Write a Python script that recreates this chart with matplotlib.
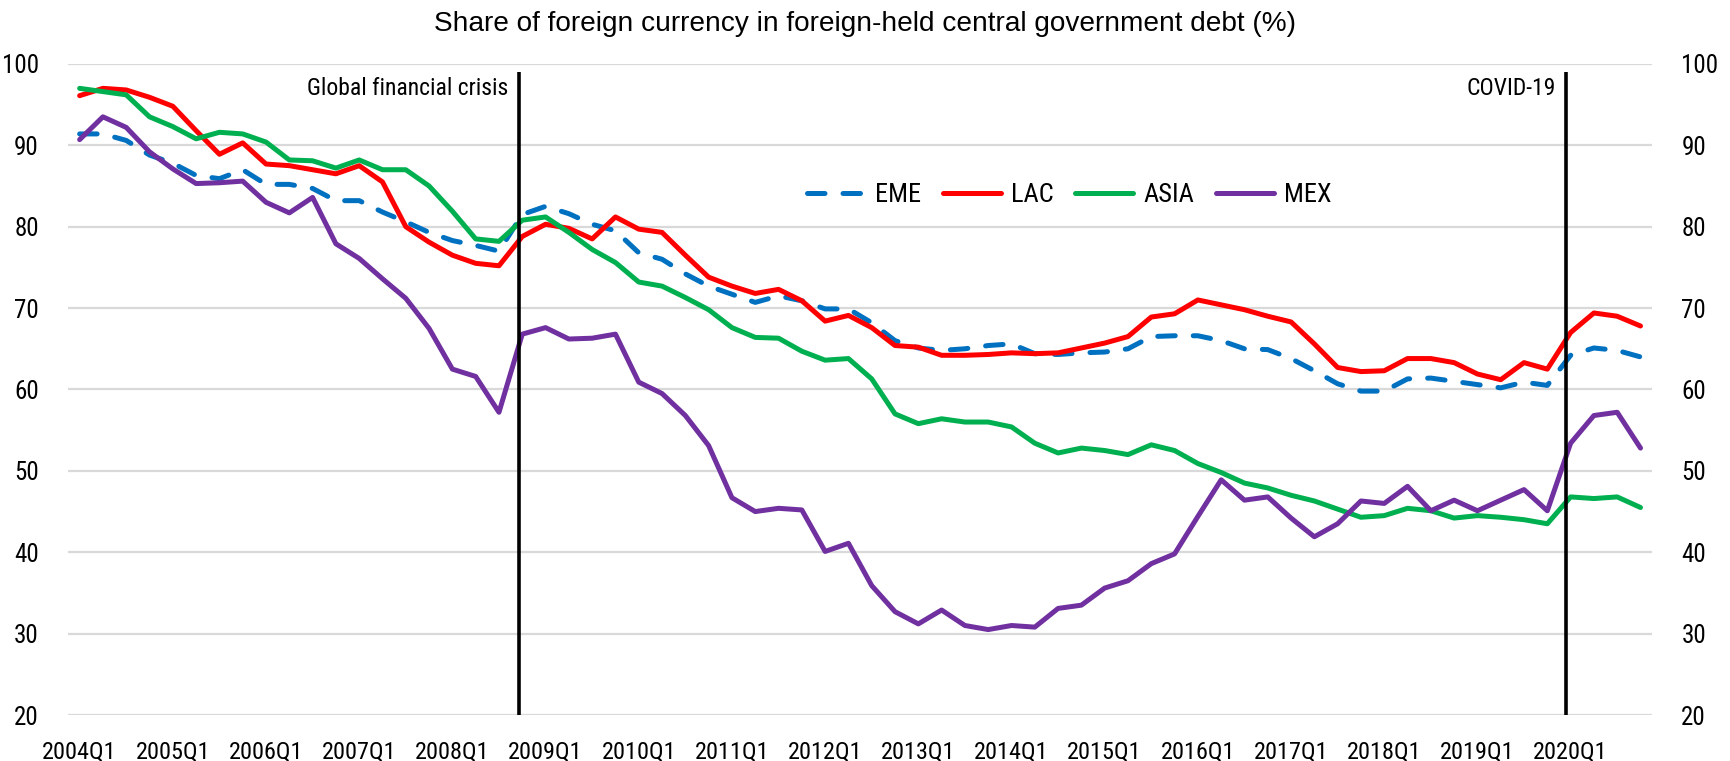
import matplotlib
matplotlib.use("Agg")
import matplotlib.pyplot as plt

# quarterly, 2004Q1 .. 2020Q4
years = list(range(2004, 2021))
quarters = [f"{y}Q{q}" for y in years for q in range(1, 5)]

eme = [91.4, 91.4, 90.6, 88.8, 87.8, 86.3, 85.9, 87.0, 85.2, 85.2,
       84.7, 83.2, 83.2, 81.8, 80.6, 79.3, 78.3, 77.7, 77.0, 81.5,
       82.5, 81.6, 80.3, 79.5, 76.8, 76.0, 74.2, 72.7, 71.7, 70.7,
       71.5, 70.9, 69.9, 69.9, 68.2, 66.0, 65.1, 64.8, 65.0, 65.4,
       65.6, 64.4, 64.3, 64.5, 64.6, 65.0, 66.5, 66.6, 66.6, 66.0,
       65.0, 64.9, 63.8, 62.3, 60.7, 59.8, 59.8, 61.3, 61.4, 61.0,
       60.6, 60.2, 60.9, 60.5, 64.2, 65.1, 64.8, 64.0]
lac = [96.1, 97.0, 96.8, 95.9, 94.8, 91.8, 88.9, 90.3, 87.7, 87.5,
       87.0, 86.5, 87.5, 85.5, 80.0, 78.1, 76.5, 75.5, 75.2, 78.8,
       80.3, 79.8, 78.5, 81.2, 79.7, 79.3, 76.5, 73.8, 72.7, 71.8,
       72.3, 70.9, 68.4, 69.1, 67.6, 65.4, 65.2, 64.2, 64.2, 64.3,
       64.5, 64.4, 64.5, 65.1, 65.7, 66.5, 68.9, 69.3, 71.0, 70.4,
       69.8, 69.0, 68.3, 65.6, 62.7, 62.2, 62.3, 63.8, 63.8, 63.3,
       61.9, 61.2, 63.3, 62.5, 67.0, 69.4, 69.0, 67.8]
asia = [97.0, 96.6, 96.2, 93.5, 92.3, 90.8, 91.6, 91.4, 90.4, 88.2,
        88.1, 87.2, 88.2, 87.0, 87.0, 85.0, 81.9, 78.5, 78.2, 80.8,
        81.2, 79.3, 77.2, 75.6, 73.2, 72.7, 71.3, 69.8, 67.6, 66.4,
        66.3, 64.7, 63.6, 63.8, 61.3, 57.0, 55.8, 56.4, 56.0, 56.0,
        55.4, 53.4, 52.2, 52.8, 52.5, 52.0, 53.2, 52.5, 50.9, 49.8,
        48.5, 47.9, 47.0, 46.3, 45.3, 44.3, 44.5, 45.4, 45.1, 44.2,
        44.5, 44.3, 44.0, 43.5, 46.8, 46.6, 46.8, 45.5]
mex = [90.7, 93.5, 92.2, 89.2, 87.1, 85.3, 85.4, 85.6, 83.0, 81.7,
       83.6, 77.9, 76.1, 73.6, 71.2, 67.5, 62.5, 61.6, 57.2, 66.8,
       67.6, 66.2, 66.3, 66.8, 60.9, 59.5, 56.8, 53.1, 46.7, 45.0,
       45.4, 45.2, 40.1, 41.1, 35.9, 32.7, 31.2, 32.9, 31.0, 30.5,
       31.0, 30.8, 33.1, 33.5, 35.6, 36.5, 38.6, 39.8, 44.4, 48.9,
       46.4, 46.8, 44.2, 41.9, 43.5, 46.3, 46.0, 48.1, 45.1, 46.4,
       45.1, 46.4, 47.7, 45.1, 53.4, 56.8, 57.2, 52.8]

events = ["Global financial crisis", "COVID-19"]
event_pos = [18.85, 63.8]   # between-quarter positions of the event lines

# the original text is squeezed a bit, a condensed face fits it best
plt.rcParams['font.family'] = ['Roboto Condensed', 'Liberation Sans', 'DejaVu Sans']

fig = plt.figure(figsize=(17.3, 7.61), dpi=100)
ax = fig.add_axes([0.0393, 0.0604, 0.9157, 0.8556])

x = list(range(len(quarters)))
style = dict(lw=3.6, solid_capstyle='round', solid_joinstyle='round', zorder=3)
ax.plot(x, eme, color='#0070C0', dashes=(3.5, 3.6), dash_capstyle='round', label='EME', **style)
ax.plot(x, lac, color='#FF0000', label='LAC', **style)
ax.plot(x, asia, color='#00B050', label='ASIA', **style)
ax.plot(x, mex, color='#7030A0', label='MEX', **style)

ax.vlines(event_pos, 20, 99, color='black', lw=2.6, zorder=4)
for name, pos in zip(events, event_pos):
    ax.text(pos - 0.45, 97, name, ha='right', va='center', fontsize=17)

ax.set_xlim(-0.5, len(quarters) - 0.5)
ax.set_ylim(20, 100)
ax.set_yticks(range(20, 101, 10))
ax.set_xticks(x[::4])
ax.set_xticklabels(quarters[::4])
ax.grid(axis='y', color='#D9D9D9', lw=1.6, zorder=0)
ax.set_axisbelow(True)
for s in ax.spines.values():
    s.set_visible(False)
ax.tick_params(axis='y', length=0, pad=21, labelsize=18, labelright=True)
ax.tick_params(axis='x', length=0, pad=18, labelsize=17.5)

ax.legend(loc='center', bbox_to_anchor=(0.632, 0.799), ncol=4, frameon=False,
          fontsize=19, handlelength=2.2, handletextpad=0.4, columnspacing=0.8)

fig.suptitle('Share of foreign currency in foreign-held central government debt (%)',
             y=0.986, fontsize=20.2, family=['Liberation Sans', 'DejaVu Sans'])

fig.savefig('out.png', dpi=100)
